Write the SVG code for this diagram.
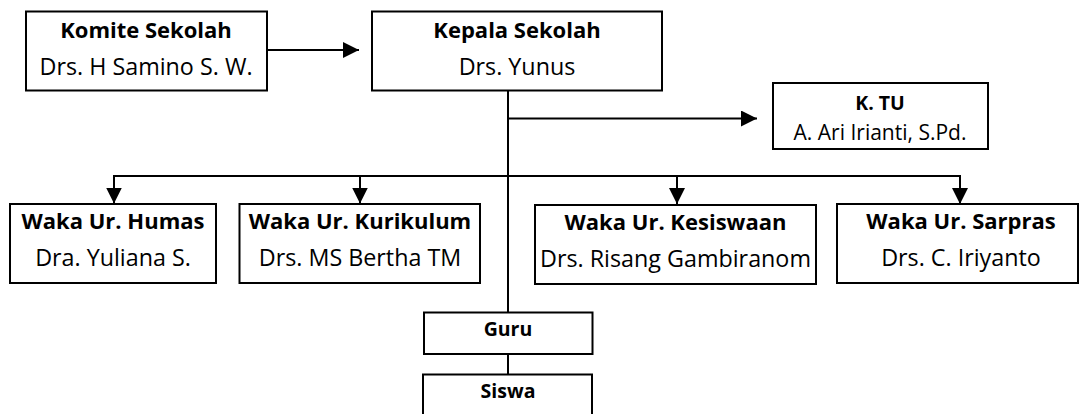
<svg xmlns="http://www.w3.org/2000/svg" width="1080" height="414" viewBox="0 0 1080 414">
<style>
.box{fill:#fff;stroke:#000;stroke-width:2}
.t{font-family:"Open Sans","Liberation Sans",sans-serif;text-anchor:middle;fill:#000}
.b{font-weight:bold;font-size:22px}
.r{font-size:23.3px}
.bs{font-weight:bold;font-size:19.5px}
.rs{font-size:21px}
.ln{fill:none;stroke:#000;stroke-width:2}
</style>
<defs>
<marker id="ah" markerUnits="userSpaceOnUse" markerWidth="16" markerHeight="16" refX="16" refY="8" orient="auto">
<path d="M0,0 L16,8 L0,16 z" fill="#000"/>
</marker>
</defs>
<rect width="1080" height="414" fill="#fff"/>
<g id="connectors">
<line class="ln" x1="267" y1="50" x2="359" y2="50" marker-end="url(#ah)"/>
<line class="ln" x1="508" y1="90.5" x2="508" y2="312.5"/>
<line class="ln" x1="508" y1="118.5" x2="757" y2="118.5" marker-end="url(#ah)"/>
<line class="ln" x1="113" y1="176" x2="961" y2="176"/>
<line class="ln" x1="114" y1="175" x2="114" y2="203.5" marker-end="url(#ah)"/>
<line class="ln" x1="360" y1="175" x2="360" y2="203.5" marker-end="url(#ah)"/>
<line class="ln" x1="677" y1="175" x2="677" y2="204" marker-end="url(#ah)"/>
<line class="ln" x1="960" y1="175" x2="960" y2="204" marker-end="url(#ah)"/>
<line class="ln" x1="508" y1="354" x2="508" y2="374.5"/>
</g>
<g id="komite">
<rect class="box" x="26" y="11.5" width="241" height="79"/>
<text class="t b" x="146" y="38">Komite Sekolah</text>
<text class="t r" x="146" y="75">Drs. H Samino S. W.</text>
</g>
<g id="kepala">
<rect class="box" x="372" y="11.5" width="290" height="79"/>
<text class="t b" x="517" y="38">Kepala Sekolah</text>
<text class="t r" x="517" y="75">Drs. Yunus</text>
</g>
<g id="ktu">
<rect class="box" x="773" y="83" width="215" height="66"/>
<text class="t bs" x="880" y="110">K. TU</text>
<text class="t rs" x="880" y="140">A. Ari Irianti, S.Pd.</text>
</g>
<g id="humas">
<rect class="box" x="10" y="204" width="206" height="79"/>
<text class="t b" x="113" y="229">Waka Ur. Humas</text>
<text class="t r" x="113" y="266">Dra. Yuliana S.</text>
</g>
<g id="kurikulum">
<rect class="box" x="239.5" y="204" width="240.5" height="79"/>
<text class="t b" x="360" y="229">Waka Ur. Kurikulum</text>
<text class="t r" x="360" y="266">Drs. MS Bertha TM</text>
</g>
<g id="kesiswaan">
<rect class="box" x="535" y="205" width="281" height="79"/>
<text class="t b" x="675.5" y="230">Waka Ur. Kesiswaan</text>
<text class="t r" x="675.5" y="267">Drs. Risang Gambiranom</text>
</g>
<g id="sarpras">
<rect class="box" x="837" y="204" width="241" height="79"/>
<text class="t b" x="961" y="229">Waka Ur. Sarpras</text>
<text class="t r" x="961" y="266">Drs. C. Iriyanto</text>
</g>
<g id="guru">
<rect class="box" x="424" y="312.5" width="168.5" height="41.5"/>
<text class="t bs" x="508" y="336">Guru</text>
</g>
<g id="siswa">
<rect class="box" x="423" y="374.5" width="169" height="50"/>
<text class="t bs" x="508" y="398">Siswa</text>
</g>
</svg>
